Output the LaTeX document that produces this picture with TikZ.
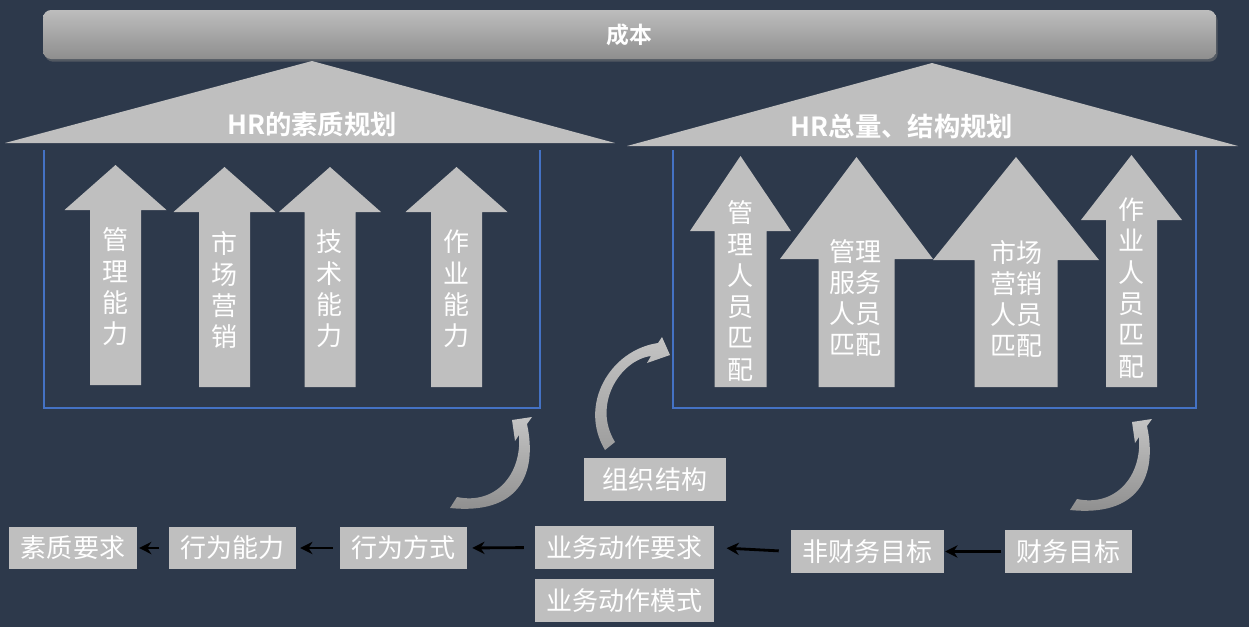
\documentclass[tikz,border=0pt]{standalone}
\usepackage{fontspec}
\setmainfont{Noto Sans CJK SC}[BoldFont={Noto Sans CJK SC Bold}]
\usetikzlibrary{arrows.meta,shadows}
\definecolor{bgnavy}{HTML}{2D394B}
\definecolor{panelgray}{HTML}{BFBFBF}
\definecolor{frameblue}{HTML}{4472C4}
\definecolor{bartop}{HTML}{BDBDBD}
\definecolor{barbottom}{HTML}{8E8E8E}
\definecolor{curvelight}{HTML}{C4C4C4}
\definecolor{curvedark}{HTML}{8C8C8C}
% block arrow: (tip x, tip y)(head base y : head half width : shaft half width : bottom y)
\def\blockup(#1,#2)(#3:#4:#5:#6){\fill[panelgray] (#1,#2) -- ({#1+#4},#3) -- ({#1+#5},#3) -- ({#1+#5},#6) -- ({#1-#5},#6) -- ({#1-#5},#3) -- ({#1-#4},#3) -- cycle;}

\begin{document}
\begin{tikzpicture}[x=0.02cm,y=-0.02cm,
		graybox/.style={fill=panelgray,text=white,inner sep=0pt,minimum height=0.85cm,font=\fontsize{14.8}{17}\selectfont},
		uptext/.style={text=white,align=center,inner sep=0pt,font=\fontsize{14.8}{17.8}\selectfont},
		rooftext/.style={text=white,inner sep=0pt,font=\fontsize{15}{17}\selectfont\bfseries},
		link/.style={draw=black,line width=1.6pt,-{Stealth[length=7pt,width=7pt]}}]
				\useasboundingbox (0,0) rectangle (1249,627);
				\fill[bgnavy] (0,0) rectangle (1249,627);
				
				% cost bar
				\node[top color=bartop,bottom color=barbottom,rounded corners=0.16cm,minimum width=23.46cm,minimum height=0.98cm,inner sep=0pt,
					drop shadow={opacity=0.45,shadow xshift=1pt,shadow yshift=-1.5pt},text=white,font=\fontsize{13}{15}\selectfont\bfseries] (cost) at (629.5,34.5) {成本};
				
				% roofs
				\fill[panelgray] (5,143) -- (312,61) -- (615,143) -- cycle;
				\node[rooftext] (quality) at (312,124) {HR的素质规划};
				\fill[panelgray] (627,146) -- (932,63) -- (1238,146) -- cycle;
				\node[rooftext] (structure) at (902,126) {HR总量、结构规划};
				
				% frames
				\draw[frameblue,line width=1.1pt] (44,150) -- (44,408) -- (540,408) -- (540,150);
				\draw[frameblue,line width=1.1pt] (673,150) -- (673,408) -- (1196,408) -- (1196,150);
				
				% left arrows
				\blockup(115.5,165)(210:51:25.5:385)
				\blockup(224.5,167)(212:51:25.5:387)
				\blockup(330,167)(212:51:25.5:387)
				\blockup(456.5,167)(212:51:25.5:387)
				\node[uptext] (ql1) at (115.5,287) {管\\理\\能\\力};
				\node[uptext] (ql2) at (224.5,290) {市\\场\\营\\销};
				\node[uptext] (ql3) at (329.5,289) {技\\术\\能\\力};
				\node[uptext] (ql4) at (456.5,289) {作\\业\\能\\力};
				
				% right arrows
				\blockup(740.5,156)(231:50.5:26:387)
				\blockup(856.5,157)(259:76.5:38:387)
				\blockup(1016,157)(260:83:41.5:387)
				\blockup(1131.5,155)(220:50.5:25.5:387)
				\node[uptext] (st1) at (740.5,291) {管\\理\\人\\员\\匹\\配};
				\node[uptext] (st2) at (855.5,298) {管理\\服务\\人员\\匹配};
				\node[uptext] (st3) at (1016,299) {市场\\营销\\人员\\匹配};
				\node[uptext] (st4) at (1131,288) {作\\业\\人\\员\\匹\\配};
				
				% curved arrows
				\shade[top color=curvelight,bottom color=curvedark] (450,508) .. controls (518,515) and (538,475) .. (527,424) -- (532,417) -- (512,420) -- (515,441) -- (519,435) .. controls (522,475) and (495,505) .. (457,497) -- cycle;
				\begin{scope}[shift={(620,2)}]
					\shade[top color=curvelight,bottom color=curvedark] (450,508) .. controls (518,515) and (538,475) .. (527,424) -- (532,417) -- (512,420) -- (515,441) -- (519,435) .. controls (522,475) and (495,505) .. (457,497) -- cycle;
				\end{scope}
				\shade[top color=curvelight,bottom color=curvedark!85] (605,450) .. controls (578,405) and (610,350) .. (658,343) -- (662,337) -- (670,355) -- (647,363) -- (651,356) .. controls (620,360) and (592,405) .. (615,442) -- cycle;
				
				% bottom boxes
				\node[graybox,minimum width=2.56cm] (demand) at (73,548) {素质要求};
				\node[graybox,minimum width=2.54cm] (ability) at (232.5,548) {行为能力};
				\node[graybox,minimum width=2.54cm] (manner) at (403.5,548) {行为方式};
				\node[graybox,minimum width=3.58cm] (bizreq) at (624.5,547.5) {业务动作要求};
				\node[graybox,minimum width=3.58cm] (bizmode) at (624.5,600.5) {业务动作模式};
				\node[graybox,minimum width=2.84cm] (org) at (655,479.5) {组织结构\hspace{0.28cm}};
				\node[graybox,minimum width=3.06cm] (nonfin) at (867.5,551.5) {非财务目标};
				\node[graybox,minimum width=2.54cm] (fin) at (1068.5,551.5) {财务目标};
				
				\draw[link,shorten <=2pt,shorten >=0.5pt] (fin.west) -- (nonfin.east);
				\draw[link,shorten <=6.8pt,shorten >=7pt] (nonfin.west) -- (bizreq.east);
				\draw[link,shorten <=6.2pt,shorten >=2.8pt] (bizreq.west) -- (manner.east);
				\draw[link,shorten <=4pt,shorten >=2.2pt] (manner.west) -- (ability.east);
				\draw[link,shorten <=5.6pt,shorten >=1pt] (ability.west) -- (demand.east);
			\end{tikzpicture}
\end{document}
